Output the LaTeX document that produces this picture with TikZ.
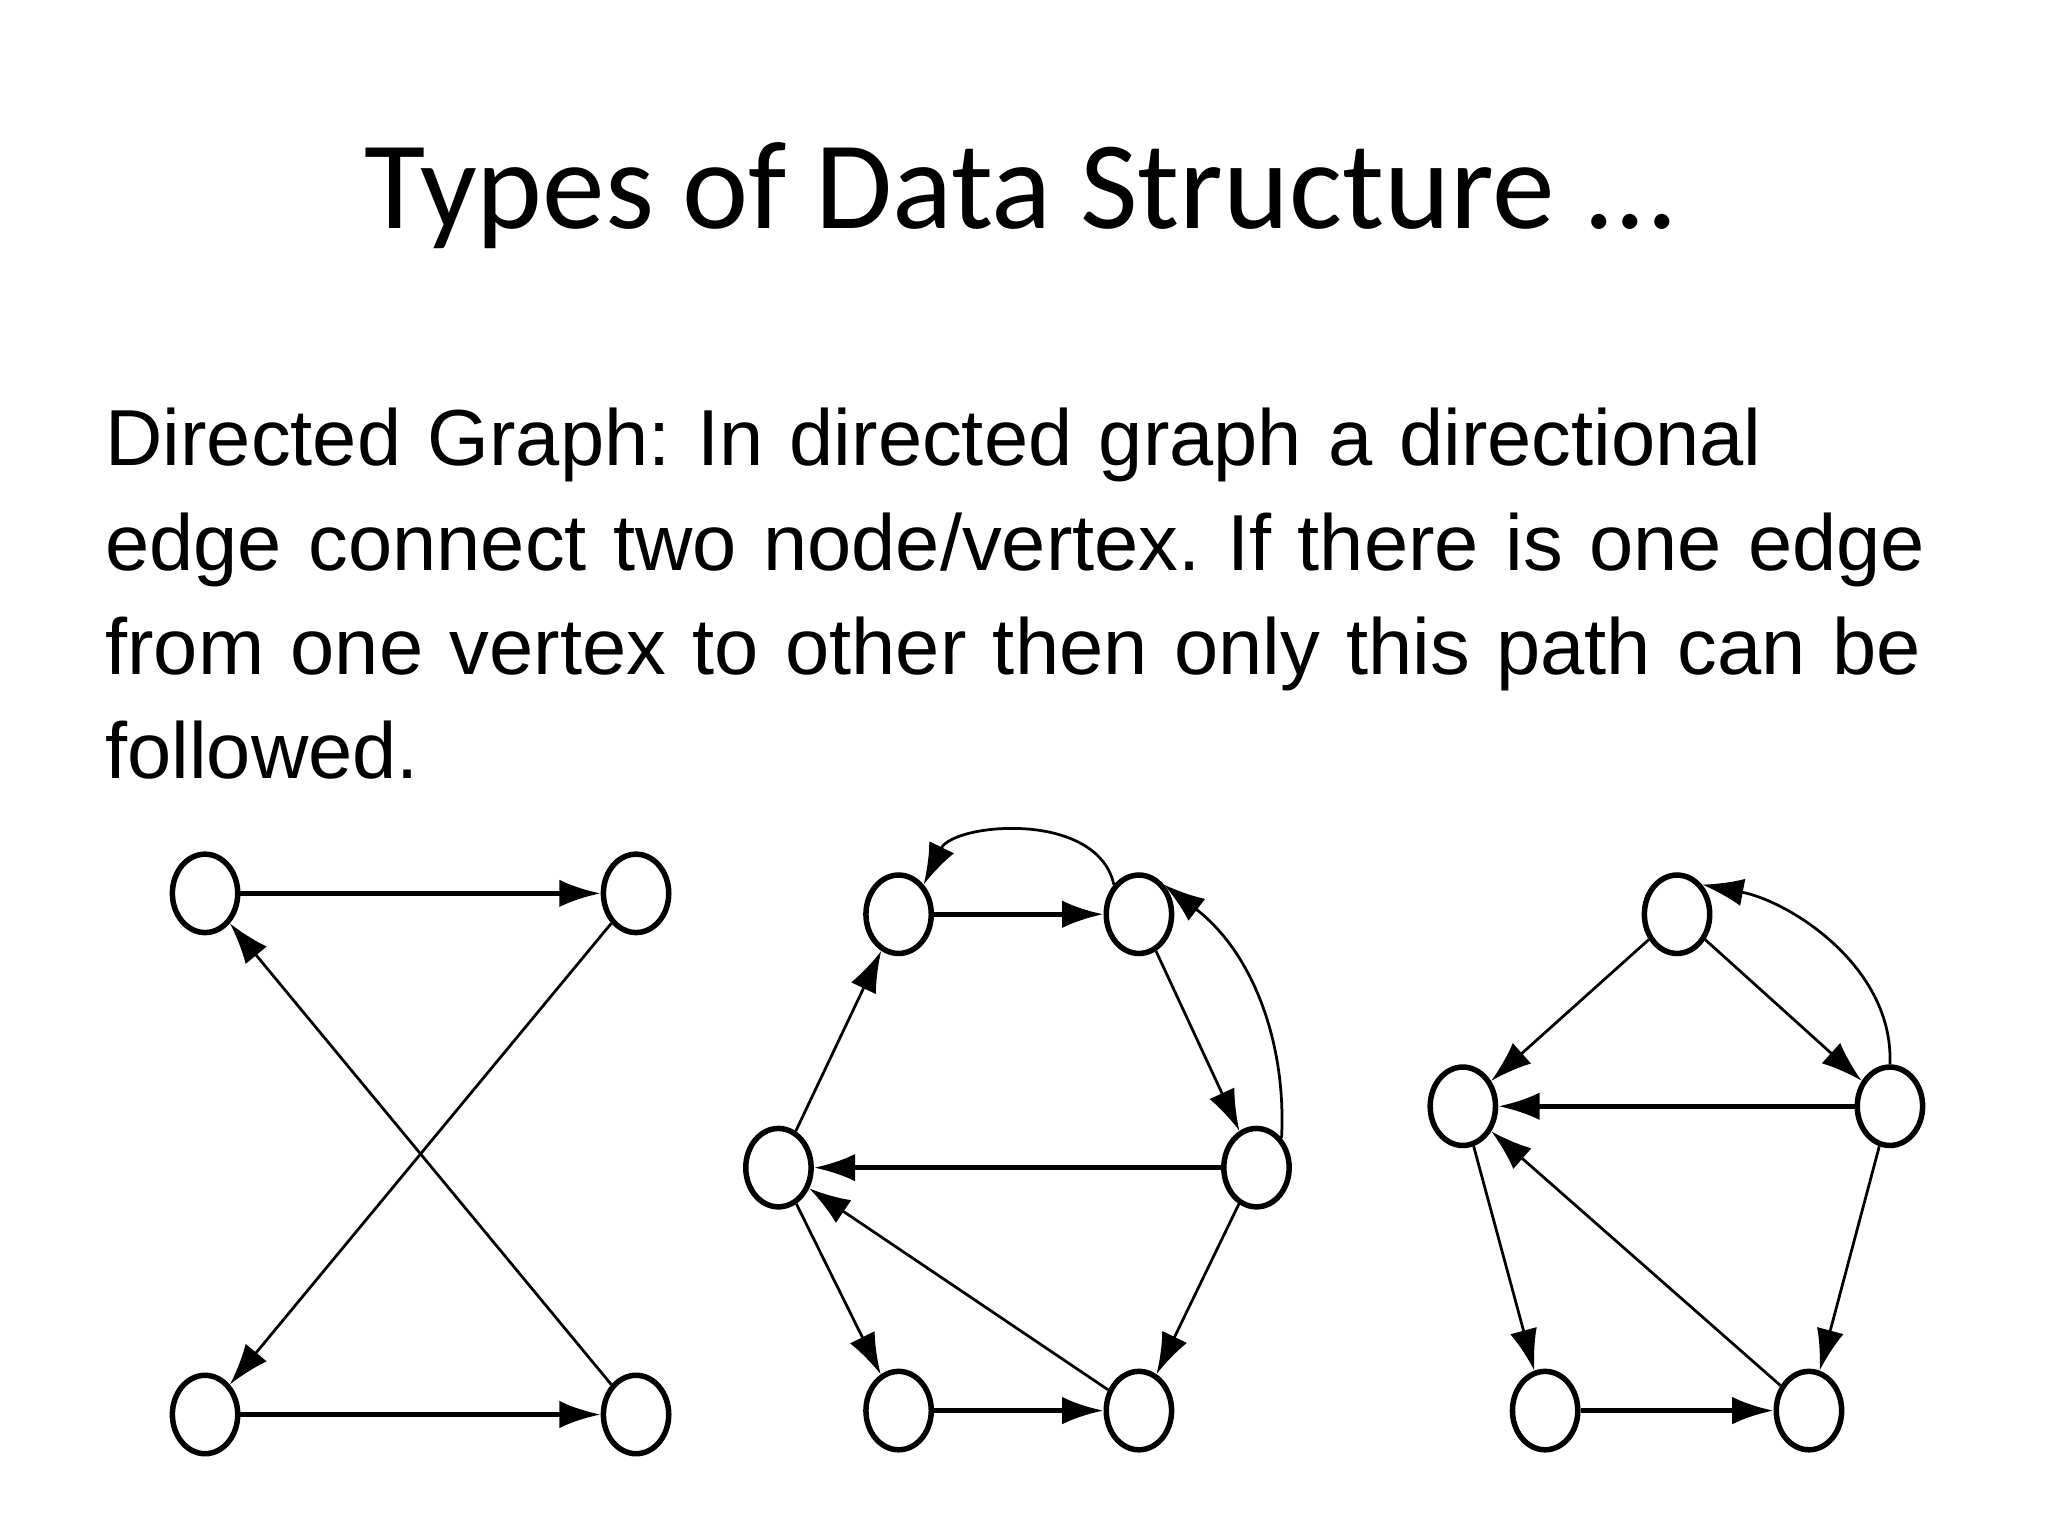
\documentclass[tikz,border=0pt]{standalone}
\usepackage{fontspec}
\setmainfont{Liberation Sans}
\newfontfamily\titlefont{Carlito}
\usetikzlibrary{shapes.geometric,arrows.meta}
\frenchspacing
\begin{document}
\begin{tikzpicture}[x=0.01cm,y=-0.01cm,
  vtx/.style={draw,ellipse,line width=1.2pt,minimum width=0.5cm,minimum height=0.6cm,inner sep=0pt},
  arr/.style={line width=1pt,-{Latex[length=9pt,width=6pt]}},
  thin/.style={line width=0.6pt,-{Latex[length=9pt,width=6pt]}}]
\useasboundingbox (0,0) rectangle (1568,1174);
\node[anchor=base,font=\titlefont\fontsize{27.3}{32}\selectfont] (title) at (782,175) {Types of Data Structure ...};
\node[anchor=north west,align=left,inner sep=0pt,font=\fontsize{17.3}{22.7}\selectfont,text width=15cm] (body) at (80,312)
{Directed Graph: In directed graph a directional\\ edge connect two node/vertex. If there is one edge\\ from one vertex to other then only this path can be\\ followed.};
% graph 1
\node[vtx] (a1) at (157,684) {};
\node[vtx] (b1) at (487,684) {};
\node[vtx] (c1) at (157,1083) {};
\node[vtx] (d1) at (487,1083) {};
\draw[arr] (a1) -- (b1);
\draw[arr] (c1) -- (d1);
\draw[thin] (d1) -- (a1);
\draw[thin] (b1) -- (c1);
% graph 2
\node[vtx] (a2) at (688,700) {};
\node[vtx] (b2) at (872,700) {};
\node[vtx] (c2) at (596,894) {};
\node[vtx] (d2) at (962,894) {};
\node[vtx] (e2) at (688,1080) {};
\node[vtx] (f2) at (872,1080) {};
\draw[arr] (a2) -- (b2);
\draw[thin] (b2.north west) .. controls (840,620) and (730,630) .. (a2.north east);
\draw[thin] (d2.north east) .. controls (985,800) and (960,730) .. (b2.north east);
\draw[thin] (b2) -- (d2);
\draw[thin] (c2) -- (a2);
\draw[arr] (d2) -- (c2);
\draw[thin] (f2) -- (c2);
\draw[thin] (c2) -- (e2);
\draw[arr] (e2) -- (f2);
\draw[thin] (d2) -- (f2);
% graph 3
\node[vtx] (a3) at (1284,700) {};
\node[vtx] (b3) at (1447,847) {};
\node[vtx] (c3) at (1120,847) {};
\node[vtx] (d3) at (1183,1080) {};
\node[vtx] (e3) at (1385,1080) {};
\draw[thin] (a3) -- (c3);
\draw[thin] (a3) -- (b3);
\draw[thin] (b3.north) .. controls (1450,740) and (1370,690) .. (a3.north east);
\draw[arr] (b3) -- (c3);
\draw[thin] (e3) -- (c3);
\draw[thin] (c3) -- (d3);
\draw[arr] (d3) -- (e3);
\draw[thin] (b3) -- (e3);
\end{tikzpicture}
\end{document}
